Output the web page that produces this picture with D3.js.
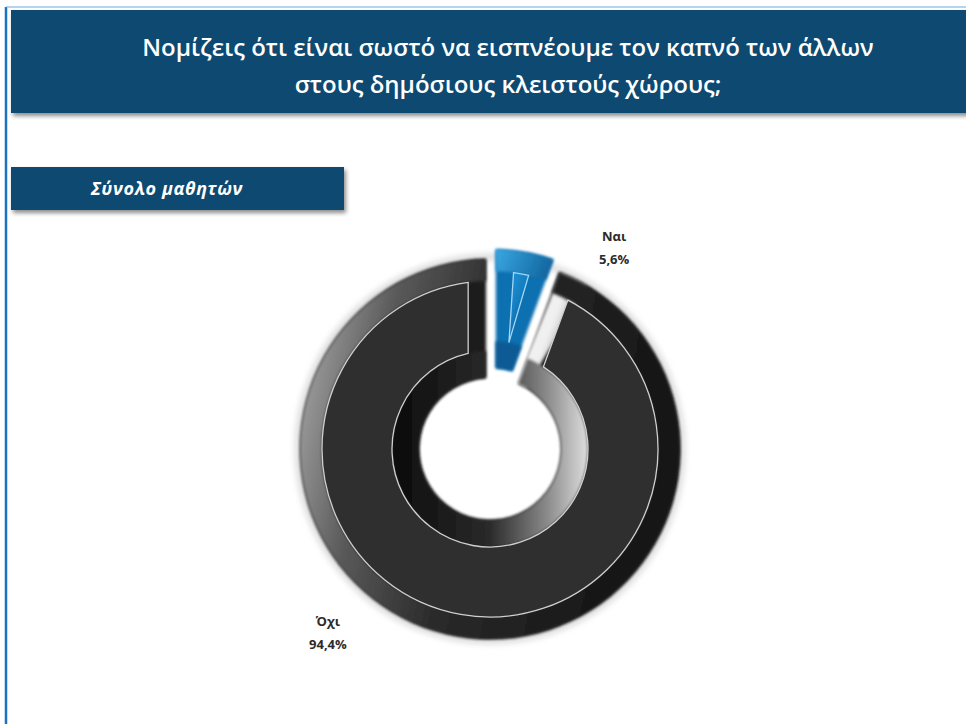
<!DOCTYPE html>
<meta charset="utf-8">
<script src="https://d3js.org/d3.v7.min.js"></script>
<style>
body { margin: 0; background: #fff; }
text { font-family: "Open Sans", "Noto Sans", sans-serif; }
</style>
<div id="chart"></div>
<script>
// data
var categories = ["Ναι", "Όχι"];
var values = [5.6, 94.4];
var valueLabels = ["5,6%", "94,4%"];
var titleLines = ["Νομίζεις ότι είναι σωστό να εισπνέουμε τον καπνό των άλλων",
                  "στους δημόσιους κλειστούς χώρους;"];
var subtitle = "Σύνολο μαθητών";

var W = 966, H = 724;
var cx = 490, cy = 449;
var rOuter = 190, rInner = 71;

var svg = d3.select("#chart").append("svg")
  .attr("width", W).attr("height", H);

var defs = svg.append("defs");

// soft shadow for the banners
var sh = defs.append("filter").attr("id", "shadow")
  .attr("x", "-5%").attr("y", "-20%").attr("width", "110%").attr("height", "150%");
sh.append("feDropShadow").attr("dx", 2).attr("dy", 3).attr("stdDeviation", 2)
  .attr("flood-color", "#000").attr("flood-opacity", 0.45);

var blur = defs.append("filter").attr("id", "soft")
  .attr("x", "-20%").attr("y", "-20%").attr("width", "140%").attr("height", "140%");
blur.append("feGaussianBlur").attr("stdDeviation", 1.6);

var blur2 = defs.append("filter").attr("id", "soft2")
  .attr("x", "-20%").attr("y", "-20%").attr("width", "140%").attr("height", "140%");
blur2.append("feGaussianBlur").attr("stdDeviation", 3);

function linGrad(id, stops, x1, x2) {
  var g = defs.append("linearGradient").attr("id", id)
    .attr("gradientUnits", "userSpaceOnUse")
    .attr("x1", x1[0]).attr("y1", x1[1]).attr("x2", x2[0]).attr("y2", x2[1]);
  stops.forEach(function(s) {
    g.append("stop").attr("offset", s[0]).attr("stop-color", s[1]);
  });
}

// dark slice shading (light coming from the left)
linGrad("outerDark", [[0, "#9a9a9a"], [0.18, "#5a5a5a"], [0.45, "#2a2a2a"], [1, "#111"]], [-rOuter, -40], [rOuter, 40]);
linGrad("innerDark", [[0, "#0c0c0c"], [0.5, "#2a2a2a"], [0.8, "#8a8a8a"], [1, "#d8d8d8"]], [-95, 0], [95, 0]);
linGrad("capDark", [[0, "#f0f0f0"], [1, "#2a2a2a"]], [60, -120], [110, -100]);
// blue slice shading
linGrad("outerBlue", [[0, "#3fb0ec"], [1, "#0b5a92"]], [0, -200], [70, -170]);
linGrad("faceBlue", [[0, "#2aa2e4"], [0.5, "#1580c4"], [1, "#084a7c"]], [0, -150], [50, -130]);

var pie = d3.pie().sort(null).value(function(d) { return d; });
var arcs = pie(values);

var colors = [
  { base: "#1170b0", outer: "url(#outerBlue)", inner: "#0c5a94", face: "url(#faceBlue)", line: "#9fd8f7" },
  { base: "#1a1a1a", outer: "url(#outerDark)", inner: "url(#innerDark)", face: "#2f2f2f", line: "#d0d0d0" }
];

var g = svg.append("g").attr("transform", "translate(" + cx + "," + cy + ")");

var gap = 8, bevel = 18;
var baseArc = d3.arc().innerRadius(rInner).outerRadius(rOuter)
  .padRadius(100).padAngle(gap / 100);
var outerBand = d3.arc().innerRadius(168).outerRadius(rOuter)
  .padRadius(100).padAngle(gap / 100);
var innerBand = d3.arc().innerRadius(rInner).outerRadius(98)
  .padRadius(100).padAngle(gap / 100);
var faceArc = d3.arc().innerRadius(98).outerRadius(168)
  .padRadius(100).padAngle((gap + 2 * bevel) / 100);

// faint glow under the ring
g.append("circle").attr("r", rOuter + 2)
  .attr("fill", "none").attr("stroke", "#d8d8d8").attr("stroke-width", 6)
  .attr("filter", "url(#soft2)");

var slices = g.selectAll("g.slice")
  .data(arcs)
  .enter().append("g")
  .attr("class", "slice")
  .attr("transform", function(d, i) {
    // the small slice is pulled out a little
    if (i !== 0) return null;
    var a = (d.startAngle + d.endAngle) / 2;
    return "translate(" + (Math.sin(a) * 10) + "," + (-Math.cos(a) * 10) + ")";
  });

slices.append("path").attr("d", baseArc)
  .attr("fill", function(d, i) { return colors[i].base; })
  .attr("filter", "url(#soft)");

// light end cap where the dark slice starts
slices.filter(function(d, i) { return i === 1; })
  .append("path")
  .attr("d", function(d) {
    return d3.arc().innerRadius(rInner).outerRadius(rOuter)
      .startAngle(d.startAngle + gap / 2 / 130)
      .endAngle(d.startAngle + (gap / 2 + bevel) / 120)();
  })
  .attr("fill", "url(#capDark)")
  .attr("filter", "url(#soft)");

slices.append("path").attr("d", outerBand)
  .attr("fill", function(d, i) { return colors[i].outer; })
  .attr("filter", "url(#soft)");

slices.append("path").attr("d", innerBand)
  .attr("fill", function(d, i) { return colors[i].inner; })
  .attr("filter", "url(#soft)");

slices.append("path").attr("d", faceArc)
  .attr("fill", function(d, i) { return colors[i].face; })
  .attr("stroke", function(d, i) { return colors[i].line; })
  .attr("stroke-width", 1.3);

// data labels
var labelPos = [{ angle: 0.546, r: 239 }, { angle: 3.872, r: 243 }];
var labels = g.selectAll("g.lab")
  .data(arcs)
  .enter().append("text")
  .attr("class", "lab")
  .attr("text-anchor", "middle")
  .attr("font-size", 13)
  .attr("font-weight", 700)
  .attr("fill", "#2b2b2b")
  .attr("transform", function(d, i) {
    var p = labelPos[i];
    return "translate(" + (Math.sin(p.angle) * p.r) + "," + (-Math.cos(p.angle) * p.r) + ")";
  });
labels.append("tspan").attr("x", 0).attr("y", -4)
  .text(function(d, i) { return categories[i]; });
labels.append("tspan").attr("x", 0).attr("y", 19)
  .text(function(d, i) { return valueLabels[i]; });

// frame lines
svg.append("line").attr("x1", 6).attr("x2", 6).attr("y1", 7).attr("y2", H)
  .attr("stroke", "#1a72c2").attr("stroke-width", 2.5);
svg.append("line").attr("x1", 6).attr("x2", W).attr("y1", 7).attr("y2", 7)
  .attr("stroke", "#6aa8e0").attr("stroke-width", 1);

// title banner
svg.append("rect").attr("x", 11).attr("y", 10).attr("width", W).attr("height", 103)
  .attr("fill", "#0b4a6f").attr("filter", "url(#shadow)");
svg.append("text")
  .attr("x", 508).attr("text-anchor", "middle")
  .attr("fill", "#fff").attr("font-size", 24).attr("font-weight", 600)
  .selectAll("tspan").data(titleLines).enter().append("tspan")
  .attr("x", 508).attr("y", function(d, i) { return 56 + i * 37; })
  .text(function(d) { return d; });

// subtitle box
svg.append("rect").attr("x", 11).attr("y", 167).attr("width", 333).attr("height", 43)
  .attr("fill", "#0b4a6f").attr("filter", "url(#shadow)");
svg.append("text")
  .attr("x", 167).attr("y", 195).attr("text-anchor", "middle")
  .attr("fill", "#fff").attr("font-size", 18).attr("font-weight", 700)
  .attr("font-style", "italic").attr("letter-spacing", 0.6)
  .text(subtitle);
</script>
